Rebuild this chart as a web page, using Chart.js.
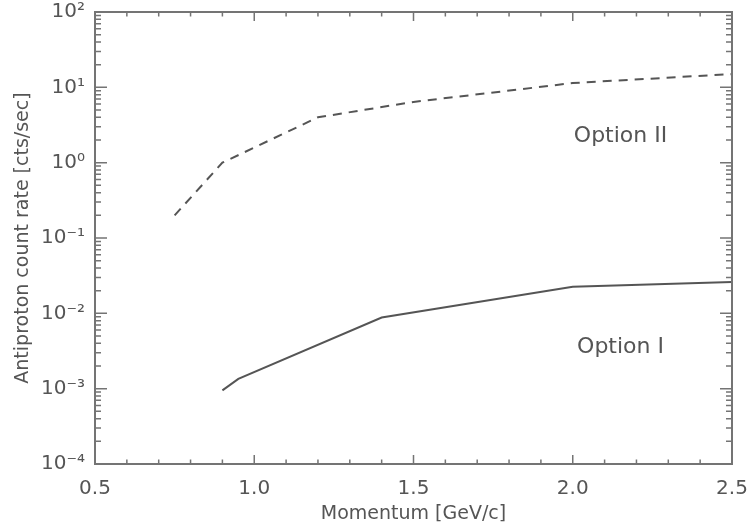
<!DOCTYPE html>
<html><head><meta charset="utf-8">
<script src="https://cdn.jsdelivr.net/npm/chart.js@4/dist/chart.umd.min.js"></script>
<style>html,body{margin:0;padding:0;background:#fff}#wrap{width:748px;height:524px}</style>
</head><body><div id="wrap"><canvas id="c" width="748" height="524"></canvas></div>
<script>
// ---- data ----
const momentumOptionII = [0.75, 0.9, 1.2, 1.5, 2.0, 2.5];
const rateOptionII     = [0.2, 1.0, 4.0, 6.4, 11.4, 15];
const momentumOptionI  = [0.9, 0.95, 1.4, 2.0, 2.5];
const rateOptionI      = [0.00095, 0.00135, 0.0088, 0.0225, 0.026];
const xTickValues = [0.5, 1.0, 1.5, 2.0, 2.5];
const yTickValues = [1e-4, 1e-3, 1e-2, 1e-1, 1, 10, 100];
const yTickLabels = ['10\u207B\u2074','10\u207B\u00B3','10\u207B\u00B2','10\u207B\u00B9','10\u2070','10\u00B9','10\u00B2'];
const seriesNames = ['Option II', 'Option I'];

const ink = '#555555';
const fontFam = 'DejaVu Sans';

const framePlugin = {
  id: 'frame',
  afterDraw(chart, args, opts) {
    const {ctx, chartArea: a, scales: {x, y}} = chart;
    ctx.save();
    ctx.strokeStyle = '#747474';
    ctx.lineWidth = 2;
    ctx.strokeRect(a.left, a.top, a.right - a.left, a.bottom - a.top);
    ctx.lineWidth = 1.5;
    ctx.beginPath();
    for (let i = 5; i <= 25; i++) {
      const px = x.getPixelForValue(i / 10);
      const len = (i % 5 === 0) ? 9 : 4.5;
      ctx.moveTo(px, a.bottom); ctx.lineTo(px, a.bottom - len);
      ctx.moveTo(px, a.top); ctx.lineTo(px, a.top + len);
    }
    for (let d = -4; d <= 2; d++) {
      for (let k = 1; k <= 9; k++) {
        const v = k * Math.pow(10, d);
        if (v > 100 * 1.0001) break;
        const py = y.getPixelForValue(v);
        const len = (k === 1) ? 12 : 6;
        ctx.moveTo(a.left, py); ctx.lineTo(a.left + len, py);
        ctx.moveTo(a.right, py); ctx.lineTo(a.right - len, py);
      }
    }
    ctx.stroke();
    ctx.fillStyle = ink;
    ctx.font = '22px "' + fontFam + '"';
    ctx.textAlign = 'center';
    ctx.textBaseline = 'middle';
    opts.labels.forEach(l => {
      ctx.fillText(l.text, x.getPixelForValue(l.x), y.getPixelForValue(l.y));
    });
    ctx.restore();
  }
};

new Chart(document.getElementById('c'), {
  type: 'line',
  data: {
    datasets: [
      { label: seriesNames[0],
        data: momentumOptionII.map((m, i) => ({x: m, y: rateOptionII[i]})),
        borderColor: ink, borderWidth: 2, borderDash: [9, 7],
        pointRadius: 0, tension: 0, fill: false },
      { label: seriesNames[1],
        data: momentumOptionI.map((m, i) => ({x: m, y: rateOptionI[i]})),
        borderColor: ink, borderWidth: 2,
        pointRadius: 0, tension: 0, fill: false }
    ]
  },
  options: {
    responsive: false, animation: false, devicePixelRatio: 1,
    layout: { padding: { top: 12, right: 16, left: 0, bottom: 0 } },
    plugins: {
      legend: { display: false }, tooltip: { enabled: false },
      frame: { labels: [
        { text: seriesNames[0], x: 2.15, y: 2.25 },
        { text: seriesNames[1], x: 2.15, y: 0.0035 }
      ] }
    },
    scales: {
      x: {
        type: 'linear', min: 0.5, max: 2.5,
        afterBuildTicks: s => { s.ticks = xTickValues.map(v => ({value: v})); },
        ticks: { callback: v => Number(v).toFixed(1), color: ink,
                 font: { family: fontFam, size: 20 }, padding: 13,
                 maxRotation: 0, autoSkip: false },
        grid: { display: false, drawTicks: false },
        border: { display: false },
        title: { display: true, text: 'Momentum [GeV/c]', color: ink,
                 font: { family: fontFam, size: 19 }, padding: { top: 0, bottom: -1 } },
        afterFit: s => { s.height = 60; s.paddingLeft = 0; s.paddingRight = 0; }
      },
      y: {
        type: 'logarithmic', min: 1e-4, max: 100,
        afterBuildTicks: s => { s.ticks = yTickValues.map(v => ({value: v})); },
        ticks: { callback: (v, i) => yTickLabels[i], color: ink,
                 font: { family: fontFam, size: 20 }, padding: 10, autoSkip: false },
        grid: { display: false, drawTicks: false },
        border: { display: false },
        title: { display: true, text: 'Antiproton count rate [cts/sec]', color: ink,
                 font: { family: fontFam, size: 19 }, padding: { top: 12, bottom: 0 } },
        afterFit: s => { s.width = 95; s.paddingTop = 0; s.paddingBottom = 0; }
      }
    }
  },
  plugins: [framePlugin]
});
</script>
</body></html>
